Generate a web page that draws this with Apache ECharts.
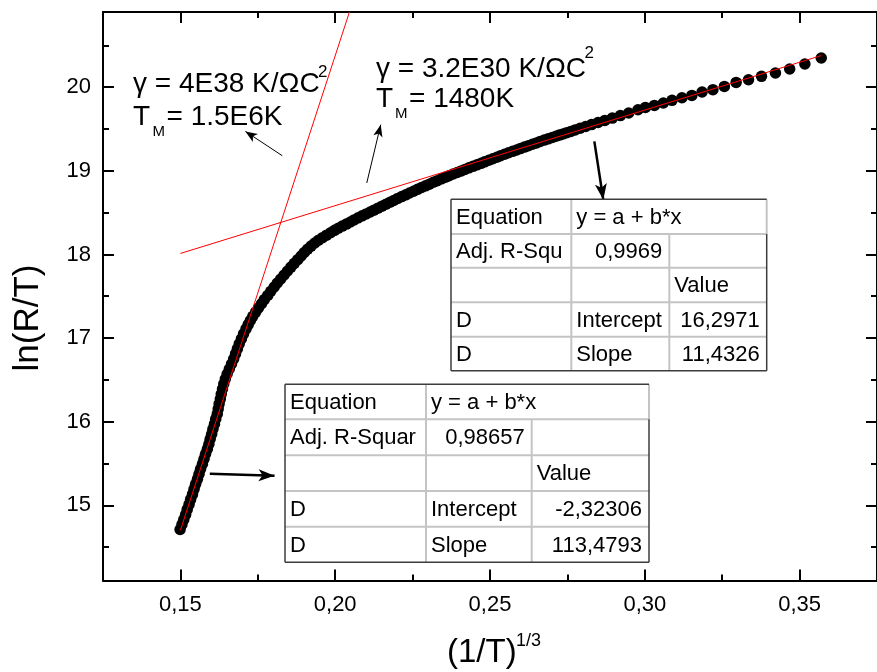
<!DOCTYPE html>
<html>
<head>
<meta charset="utf-8">
<script src="https://cdn.jsdelivr.net/npm/echarts@6/dist/echarts.min.js"></script>
<style>
  html, body { margin: 0; padding: 0; background: #fff; }
  #chart { width: 877px; height: 672px; }
</style>
</head>
<body>
<div id="chart"></div>
<script>
// axis ranges and ticks
var xMin = 0.125, xMax = 0.375, yMin = 14.1, yMax = 20.9;
var xMajor = [0.15, 0.20, 0.25, 0.30, 0.35];
var xMinor = [0.175, 0.225, 0.275, 0.325];
var yMajor = [15, 16, 17, 18, 19, 20];
var yMinor = [14.5, 15.5, 16.5, 17.5, 18.5, 19.5, 20.5];

var steepPts = [
  [0.1499, 14.71], [0.1505, 14.77], [0.1511, 14.83], [0.1517, 14.89], [0.1522, 14.95],
  [0.1528, 15.01], [0.1533, 15.07], [0.1539, 15.13], [0.1544, 15.19], [0.1549, 15.25],
  [0.1555, 15.31], [0.1560, 15.37], [0.1565, 15.43], [0.1571, 15.49], [0.1576, 15.55],
  [0.1581, 15.61], [0.1587, 15.67], [0.1592, 15.73], [0.1596, 15.79], [0.1601, 15.85],
  [0.1605, 15.91], [0.1610, 15.97], [0.1614, 16.03], [0.1619, 16.09], [0.1622, 16.15],
  [0.1625, 16.21], [0.1629, 16.27], [0.1632, 16.33], [0.1636, 16.39], [0.1640, 16.45],
  [0.1645, 16.51], [0.1651, 16.57], [0.1658, 16.63], [0.1665, 16.69], [0.1672, 16.75],
  [0.1678, 16.81], [0.1684, 16.87], [0.1690, 16.93], [0.1697, 16.99], [0.1704, 17.05]
];
var kneePts = [
  [0.1712, 17.11], [0.1719, 17.16], [0.1726, 17.21], [0.1734, 17.26], [0.1743, 17.31],
  [0.1752, 17.36], [0.1762, 17.41], [0.1771, 17.46], [0.1782, 17.51], [0.1792, 17.56],
  [0.1803, 17.61], [0.1813, 17.658], [0.1824, 17.706], [0.1835, 17.754], [0.1846, 17.802],
  [0.1857, 17.849], [0.1868, 17.894], [0.1879, 17.938], [0.1890, 17.981], [0.1900, 18.023],
  [0.1911, 18.063], [0.1922, 18.100], [0.1934, 18.137], [0.1946, 18.170], [0.1959, 18.201],
  [0.1972, 18.231], [0.1985, 18.260], [0.1998, 18.288], [0.2010, 18.314], [0.2023, 18.339],
  [0.2036, 18.363], [0.2049, 18.388], [0.2061, 18.413], [0.2074, 18.438], [0.2087, 18.462],
  [0.2100, 18.485], [0.2113, 18.508], [0.2125, 18.530], [0.2138, 18.554], [0.2151, 18.578],
  [0.2164, 18.601], [0.2177, 18.624], [0.2189, 18.646], [0.2202, 18.670], [0.2215, 18.692],
  [0.2228, 18.713], [0.2240, 18.735], [0.2253, 18.756], [0.2266, 18.779], [0.2279, 18.801],
  [0.2292, 18.821], [0.2304, 18.841], [0.2317, 18.863], [0.2330, 18.883], [0.2343, 18.904],
  [0.2356, 18.923], [0.2368, 18.942], [0.2381, 18.962], [0.2394, 18.980], [0.2407, 18.999],
  [0.2419, 19.017], [0.2432, 19.036], [0.2445, 19.054], [0.2458, 19.072], [0.2471, 19.090],
  [0.2483, 19.108], [0.2496, 19.127], [0.2509, 19.144], [0.2522, 19.162], [0.2534, 19.180],
  [0.2547, 19.198], [0.2560, 19.216], [0.2573, 19.233], [0.2586, 19.249], [0.2598, 19.266],
  [0.2611, 19.284], [0.2624, 19.301], [0.2637, 19.318], [0.2650, 19.334], [0.2662, 19.352],
  [0.2675, 19.368], [0.2688, 19.383], [0.2701, 19.399], [0.2713, 19.414], [0.2724, 19.428],
  [0.2736, 19.442], [0.2748, 19.457], [0.2761, 19.472], [0.2775, 19.490], [0.2791, 19.509],
  [0.2809, 19.530], [0.2828, 19.553], [0.2849, 19.578], [0.2871, 19.603], [0.2895, 19.631],
  [0.2921, 19.661]
];
var tailPts = [
  [0.2948, 19.692], [0.2978, 19.731], [0.3002, 19.759], [0.3031, 19.783], [0.3060, 19.811],
  [0.3088, 19.843], [0.3120, 19.875], [0.3152, 19.902], [0.3185, 19.943], [0.3220, 19.971],
  [0.3257, 20.010], [0.3295, 20.058], [0.3335, 20.090], [0.3377, 20.130], [0.3422, 20.170],
  [0.3468, 20.218], [0.3517, 20.278], [0.3570, 20.350]
];

// the two linear fits (end points)
var fitLow = [[0.150, 14.700], [0.2046, 20.900]];
var fitHigh = [[0.150, 18.012], [0.357, 20.379]];

// arrows: [start, tip, width, head size]
var arrows = [
  [[0.1829, 19.181], [0.1710, 19.472], 1, [7, 12]],
  [[0.2102, 18.855], [0.2147, 19.552], 1, [7, 12]],
  [[0.2837, 19.352], [0.2866, 18.655], 2.5, [9, 16]],
  [[0.1595, 15.377], [0.1804, 15.353], 2.5, [9, 16]]
];

// fit tables
var tableHigh = [
  ['Equation', 'y = a + b*x', ''],
  ['Adj. R-Squ', '0,9969', ''],
  ['', '', 'Value'],
  ['D', 'Intercept', '16,2971'],
  ['D', 'Slope', '11,4326']
];
var tableLow = [
  ['Equation', 'y = a + b*x', ''],
  ['Adj. R-Squar', '0,98657', ''],
  ['', '', 'Value'],
  ['D', 'Intercept', '-2,32306'],
  ['D', 'Slope', '113,4793']
];

var FONT = 'Liberation Sans, Arial, sans-serif';
var chart = echarts.init(document.getElementById('chart'));

function xAx(pos, ticks, len, withLabels) {
  return {
    type: 'value', position: pos, min: xMin, max: xMax,
    axisLine: { show: len > 8, onZero: false, lineStyle: { color: '#000', width: 2 } },
    axisTick: { show: true, inside: true, length: len, customValues: ticks, lineStyle: { color: '#000', width: 2 } },
    axisLabel: withLabels ? {
      customValues: ticks, margin: 13, color: '#000', fontSize: 22, fontFamily: FONT,
      formatter: function (v) { return v.toFixed(2).replace('.', ','); }
    } : { show: false },
    splitLine: { show: false }
  };
}
function yAx(pos, ticks, len, withLabels) {
  return {
    type: 'value', position: pos, min: yMin, max: yMax,
    axisLine: { show: len > 8, onZero: false, lineStyle: { color: '#000', width: 2 } },
    axisTick: { show: true, inside: true, length: len, customValues: ticks, lineStyle: { color: '#000', width: 2 } },
    axisLabel: withLabels ? {
      customValues: ticks, margin: 12, color: '#000', fontSize: 22, fontFamily: FONT,
      formatter: function (v) { return String(Math.round(v)); }
    } : { show: false },
    splitLine: { show: false }
  };
}

function tableGraphics(cols, rows, cells) {
  var L = cols[0], C1 = cols[1], C2 = cols[2], R = cols[3];
  var light = { stroke: '#c4c4c4', lineWidth: 2 };
  var dark = { stroke: '#3c3c3c', lineWidth: 1.5 };
  var els = [];
  function ln(x1, y1, x2, y2, st) {
    els.push({ type: 'line', shape: { x1: x1, y1: y1, x2: x2, y2: y2 }, style: st, z: 100 });
  }
  els.push({ type: 'rect', shape: { x: L, y: rows[0], width: R - L, height: rows[5] - rows[0] }, style: { fill: '#fff' }, z: 99 });
  for (var i = 1; i < 5; i++) ln(L, rows[i], R, rows[i], light);
  ln(C1, rows[0], C1, rows[5], light);
  ln(C2, rows[1], C2, rows[5], light);
  ln(R, rows[0], R, rows[1], light);
  ln(L, rows[0], R, rows[0], dark);
  ln(L, rows[0], L, rows[5], dark);
  ln(L, rows[5], R, rows[5], dark);
  ln(R, rows[1], R, rows[5], dark);
  var lefts = [L, C1, C2], rights = [C1, C2, R];
  cells.forEach(function (row, r) {
    row.forEach(function (txt, c) {
      if (!txt) return;
      var num = /^-?[0-9]+,[0-9]+$/.test(txt);
      els.push({
        type: 'text', z: 101,
        x: num ? rights[c] - 7 : lefts[c] + 5,
        y: (rows[r] + rows[r + 1]) / 2 + 1,
        style: { text: txt, fill: '#000', fontSize: 22, fontFamily: FONT, align: num ? 'right' : 'left', verticalAlign: 'middle' }
      });
    });
  });
  return els;
}

function txt(s, x, y, size) {
  return { type: 'text', x: x, y: y, z: 101,
    style: { text: s, fill: '#000', fontSize: size, fontFamily: FONT, align: 'left', verticalAlign: 'middle' } };
}

var labels = [
  txt('\u03b3 = 4E38 K/\u03a9C', 133, 84, 28), txt('2', 318, 72, 17),
  txt('T', 133, 117, 28), txt('M', 152.5, 132, 15), txt('= 1.5E6K', 166.5, 117, 28),
  txt('\u03b3 = 3.2E30 K/\u03a9C', 376, 69.5, 28), txt('2', 584.5, 53, 17),
  txt('T', 376, 99, 28), txt('M', 395, 114, 15), txt('= 1480K', 409, 99, 28),
  txt('(1/T)', 447, 653, 33), txt('1/3', 516, 641, 18),
  { type: 'text', x: 28.5, y: 318, rotation: Math.PI / 2, z: 101,
    style: { text: 'ln(R/T)', fill: '#000', fontSize: 35, fontFamily: FONT, align: 'center', verticalAlign: 'middle' } }
];

var arrowLines = arrows.map(function (a) {
  return [
    { coord: a[0], symbol: 'none', lineStyle: { width: a[2], color: '#000', type: 'solid' } },
    { coord: a[1], symbol: 'arrow', symbolSize: a[3] }
  ];
});

var option = {
  animation: false,
  backgroundColor: '#fff',
  grid: { left: 103, top: 12, width: 782, height: 568.5 },
  xAxis: [
    xAx('bottom', xMajor, 11, true),
    xAx('bottom', xMinor, 6, false),
    xAx('top', xMajor, 11, false),
    xAx('top', xMinor, 6, false)
  ],
  yAxis: [
    yAx('left', yMajor, 11, true),
    yAx('left', yMinor, 6, false),
    yAx('right', yMajor, 11, false),
    yAx('right', yMinor, 6, false)
  ],
  series: [
    {
      name: 'D', type: 'scatter', xAxisIndex: 0, yAxisIndex: 0,
      data: steepPts.concat(kneePts, tailPts),
      symbol: 'circle', symbolSize: 11.5,
      itemStyle: { color: '#000', opacity: 1 }, z: 2, silent: true
    },
    {
      name: 'fit low', type: 'line', data: fitLow, showSymbol: false,
      lineStyle: { color: '#ff0000', width: 1 }, z: 3, silent: true
    },
    {
      name: 'fit high', type: 'line', data: fitHigh, showSymbol: false,
      lineStyle: { color: '#ff0000', width: 1 }, z: 3, silent: true,
      markLine: {
        silent: true, animation: false, label: { show: false },
        symbol: ['none', 'arrow'],
        itemStyle: { color: '#000' },
        lineStyle: { color: '#000', type: 'solid' },
        emphasis: { disabled: true },
        data: arrowLines
      }
    }
  ],
  graphic: tableGraphics([451, 571.3, 669.3, 766.7], [199.3, 234, 267.7, 302.3, 336.7, 370.7], tableHigh)
    .concat(tableGraphics([285, 426, 531.7, 649], [384.3, 419.3, 455.3, 491, 526.7, 562.3], tableLow))
    .concat(labels)
};
chart.setOption(option);
</script>
</body>
</html>
